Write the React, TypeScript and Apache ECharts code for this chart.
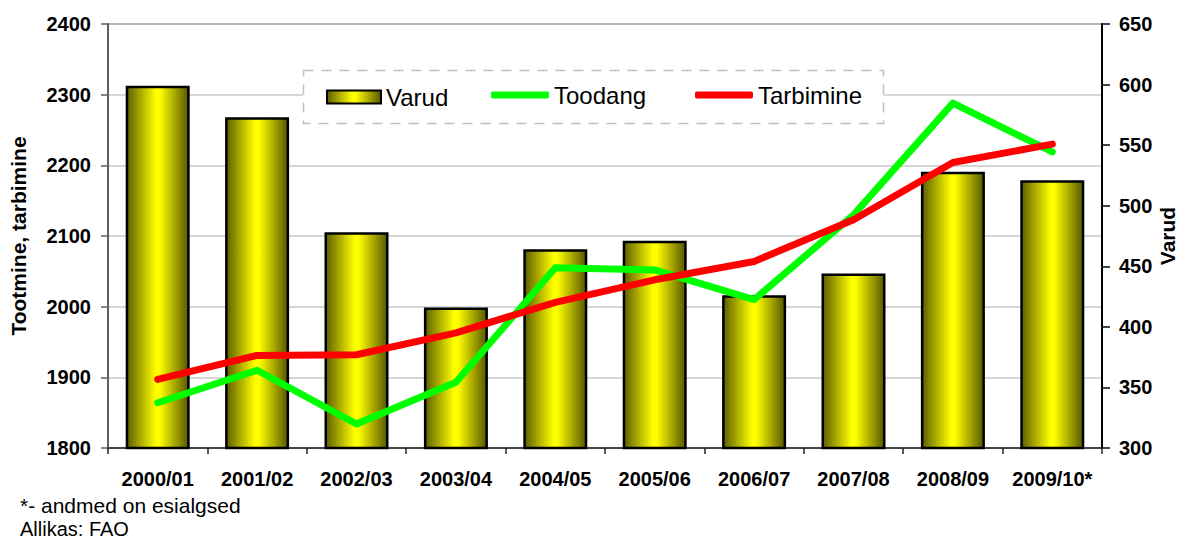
import React, { useEffect, useRef } from "react";
import * as echarts from "echarts";

const categories = ["2000/01", "2001/02", "2002/03", "2003/04", "2004/05", "2005/06", "2006/07", "2007/08", "2008/09", "2009/10*"];
const varud = [599, 573, 478, 416, 464, 471, 426, 444, 528, 521];
const toodang = [1864, 1910, 1834, 1893, 2055, 2052, 2010, 2130, 2288, 2219];
const tarbimine = [1897, 1931, 1932, 1963, 2006, 2038, 2064, 2123, 2204, 2230];
const leftAxisRange = [1800, 2400, 100];
const rightAxisRange = [300, 650, 50];
const seriesNames = ["Varud", "Toodang", "Tarbimine"];
const leftAxisName = "Tootmine, tarbimine";
const rightAxisName = "Varud";
const footnotes = ["*- andmed on esialgsed", "Allikas: FAO"];

const FONT = 'Arial, "Liberation Sans", Helvetica, sans-serif';

export default function App() {
  const ref = useRef<HTMLDivElement>(null);
  useEffect(() => {
    if (!ref.current) return;
    const chart = echarts.init(ref.current, null, { renderer: "svg" });
    const barGrad = new echarts.graphic.LinearGradient(0, 0, 1, 0, [
      { offset: 0, color: "#5e5e00" },
      { offset: 0.47, color: "#ffff00" },
      { offset: 0.53, color: "#ffff00" },
      { offset: 1, color: "#585800" },
    ]);
    const labelStyle = { fontFamily: FONT, fontSize: 20, fontWeight: "bold" as const, color: "#000" };
    chart.setOption({
      animation: false,
      backgroundColor: "#fff",
      grid: {
        left: 108,
        right: 77,
        top: 24,
        bottom: 92,
        containLabel: false,
        outerBoundsMode: "none",
        show: true,
        borderColor: "#808080",
        borderWidth: 2,
        backgroundColor: "transparent",
      },
      legend: [
        {
          data: [{ name: seriesNames[0], icon: "rect" }],
          left: 326,
          top: 85,
          padding: 0,
          itemWidth: 54,
          itemHeight: 13,
          textStyle: { fontFamily: FONT, fontSize: 24, color: "#000" },
        },
        {
          data: [{ name: seriesNames[1], icon: "roundRect" }],
          left: 491,
          top: 83,
          padding: 0,
          itemWidth: 58,
          itemHeight: 7,
          itemStyle: { color: "#00ff00", borderWidth: 0 },
          textStyle: { fontFamily: FONT, fontSize: 24, color: "#000" },
        },
        {
          data: [{ name: seriesNames[2], icon: "roundRect" }],
          left: 695,
          top: 83,
          padding: 0,
          itemWidth: 58,
          itemHeight: 7,
          itemStyle: { color: "#ff0000", borderWidth: 0 },
          textStyle: { fontFamily: FONT, fontSize: 24, color: "#000" },
        },
      ],
      xAxis: {
        type: "category",
        data: categories,
        boundaryGap: true,
        axisLine: { show: true, lineStyle: { color: "#202020", width: 1.5 } },
        axisTick: { show: true, alignWithLabel: false, length: 6, lineStyle: { color: "#202020", width: 1.5 } },
        axisLabel: { ...labelStyle, margin: 21, interval: 0 },
        splitLine: { show: false },
      },
      yAxis: [
        {
          type: "value",
          min: leftAxisRange[0],
          max: leftAxisRange[1],
          interval: leftAxisRange[2],
          position: "left",
          name: leftAxisName,
          nameLocation: "middle",
          nameRotate: 90,
          nameGap: 79,
          nameMoveOverlap: false,
          nameTextStyle: { fontFamily: FONT, fontSize: 21, fontWeight: "bold", color: "#000" },
          axisLine: { show: true, lineStyle: { color: "#606060", width: 2 } },
          axisTick: { show: true, length: 7, lineStyle: { color: "#606060", width: 1.5 } },
          axisLabel: { ...labelStyle, margin: 17, formatter: (v: number) => String(v) },
          splitLine: { show: true, lineStyle: { color: "#c8c8c8", width: 1.5 } },
        },
        {
          type: "value",
          min: rightAxisRange[0],
          max: rightAxisRange[1],
          interval: rightAxisRange[2],
          position: "right",
          name: rightAxisName,
          nameLocation: "middle",
          nameRotate: 90,
          nameGap: 55,
          nameMoveOverlap: false,
          nameTextStyle: { fontFamily: FONT, fontSize: 21, fontWeight: "bold", color: "#000" },
          axisLine: { show: true, lineStyle: { color: "#000", width: 2 } },
          axisTick: { show: true, length: 8, lineStyle: { color: "#000", width: 1.5 } },
          axisLabel: { ...labelStyle, margin: 17, formatter: (v: number) => String(v) },
          splitLine: { show: false },
        },
      ],
      graphic: [
        {
          type: "rect",
          z: 3,
          shape: { x: 303.5, y: 70.5, width: 580, height: 53 },
          style: { fill: "#fff", stroke: "#c0c0c0", lineWidth: 1.5, lineDash: [10, 8] },
        },
        {
          type: "text",
          left: 20,
          top: 495,
          style: { text: footnotes[0], font: `21px ${FONT}`, fill: "#000" },
        },
        {
          type: "text",
          left: 20,
          top: 519,
          style: { text: footnotes[1], font: `20px ${FONT}`, fill: "#000" },
        },
      ],
      series: [
        {
          name: seriesNames[0],
          type: "bar",
          yAxisIndex: 1,
          data: varud,
          barWidth: 64,
          z: 2,
          itemStyle: { color: barGrad, borderColor: "#000", borderWidth: 2.5 },
        },
        {
          name: seriesNames[1],
          type: "line",
          yAxisIndex: 0,
          data: toodang,
          symbol: "none",
          z: 5,
          itemStyle: { color: "#00ff00" },
          lineStyle: { color: "#00ff00", width: 7, cap: "round", join: "round" },
        },
        {
          name: seriesNames[2],
          type: "line",
          yAxisIndex: 0,
          data: tarbimine,
          symbol: "none",
          z: 6,
          itemStyle: { color: "#ff0000" },
          lineStyle: { color: "#ff0000", width: 7, cap: "round", join: "round" },
        },
      ],
    });
    return () => chart.dispose();
  }, []);
  return <div ref={ref} style={{ position: "absolute", left: 0, top: 0, width: 1179, height: 540 }} />;
}
